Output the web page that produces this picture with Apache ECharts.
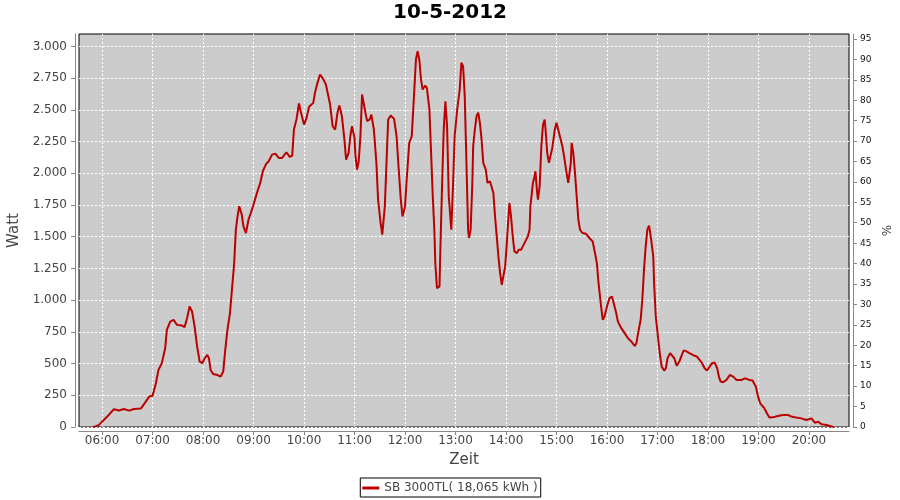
<!DOCTYPE html>
<html><head><meta charset="utf-8">
<script src="https://cdn.jsdelivr.net/npm/echarts@6/dist/echarts.min.js"></script>
<style>html,body{margin:0;padding:0;background:#fff}#c{width:900px;height:500px}</style>
</head><body><div id="c"></div>
<script>
const chartTitle = '10-5-2012';
const seriesName = 'SB 3000TL( 18,065 kWh )';
const times = ['05:49','05:52','05:56','06:02','06:08','06:14','06:20','06:26','06:32','06:38','06:46','06:52','06:56','07:00','07:04','07:07','07:11','07:15','07:17','07:21','07:25','07:29','07:35','07:38','07:41','07:44','07:47','07:50','07:53','07:56','07:59','08:02','08:05','08:07','08:09','08:12','08:17','08:21','08:24','08:26','08:29','08:32','08:34','08:37','08:39','08:41','08:43','08:46','08:48','08:51','08:54','08:57','09:00','09:04','09:08','09:11','09:15','09:18','09:22','09:26','09:30','09:34','09:39','09:43','09:46','09:48','09:51','09:54','09:56','10:00','10:03','10:06','10:11','10:13','10:16','10:19','10:23','10:26','10:28','10:31','10:34','10:37','10:40','10:42','10:45','10:48','10:50','10:53','10:55','10:57','11:00','11:01','11:03','11:05','11:07','11:09','11:11','11:13','11:15','11:18','11:20','11:23','11:26','11:28','11:31','11:33','11:36','11:38','11:40','11:43','11:47','11:50','11:52','11:55','11:57','12:00','12:02','12:05','12:08','12:10','12:13','12:15','12:17','12:19','12:21','12:24','12:26','12:29','12:31','12:33','12:35','12:36','12:38','12:41','12:42','12:44','12:46','12:48','12:50','12:52','12:55','12:57','12:59','13:02','13:05','13:07','13:09','13:11','13:13','13:15','13:16','13:18','13:20','13:21','13:23','13:25','13:27','13:29','13:31','13:33','13:36','13:38','13:41','13:43','13:45','13:47','13:49','13:51','13:53','13:55','13:57','13:59','14:01','14:03','14:04','14:06','14:08','14:10','14:13','14:15','14:18','14:20','14:23','14:26','14:28','14:29','14:32','14:34','14:35','14:37','14:38','14:40','14:42','14:44','14:46','14:47','14:49','14:51','14:53','14:55','14:58','15:00','15:03','15:05','15:07','15:09','15:12','15:14','15:15','15:17','15:18','15:20','15:22','15:24','15:26','15:28','15:31','15:35','15:39','15:43','15:45','15:48','15:50','15:53','15:55','15:57','16:00','16:03','16:06','16:08','16:11','16:13','16:17','16:21','16:25','16:29','16:33','16:35','16:37','16:40','16:42','16:44','16:46','16:48','16:50','16:52','16:55','16:56','16:58','17:01','17:03','17:05','17:08','17:10','17:12','17:15','17:17','17:20','17:23','17:26','17:29','17:31','17:34','17:38','17:42','17:47','17:50','17:53','17:56','17:59','18:02','18:05','18:08','18:11','18:13','18:15','18:18','18:22','18:24','18:26','18:30','18:34','18:40','18:44','18:49','18:53','18:57','18:59','19:02','19:07','19:10','19:13','19:17','19:23','19:29','19:35','19:39','19:45','19:51','19:57','20:03','20:07','20:11','20:15','20:21','20:25','20:29'];
const watts = [0,5,15,55,95,140,130,142,129,142,145,200,240,247,345,450,503,621,766,831,845,805,800,787,858,950,910,792,634,516,503,542,568,542,450,418,410,397,437,582,766,898,1055,1292,1555,1660,1740,1674,1581,1529,1634,1692,1753,1845,1924,2016,2074,2095,2147,2155,2121,2121,2166,2129,2140,2345,2424,2550,2489,2384,2437,2524,2555,2634,2713,2779,2740,2700,2713,2542,2371,2345,2489,2534,2450,2266,2108,2161,2292,2371,2279,2147,2029,2095,2292,2621,2608,2477,2411,2424,2463,2345,2082,1792,1608,1516,1739,2082,2424,2455,2429,2292,2082,1792,1660,1739,1950,2240,2292,2529,2897,2963,2897,2740,2660,2692,2674,2503,2161,1818,1529,1292,1095,1108,1397,1897,2345,2568,2371,1818,1555,1897,2292,2503,2660,2871,2845,2608,2082,1555,1490,1555,1924,2213,2345,2450,2477,2398,2266,2082,2029,1924,1937,1945,1845,1660,1503,1345,1213,1121,1134,1266,1450,1660,1766,1660,1503,1384,1371,1397,1397,1424,1463,1503,1555,1739,1924,1976,2016,1845,1792,1897,2213,2384,2424,2345,2161,2082,2082,2200,2345,2398,2319,2266,2213,2134,2003,1924,1937,2082,2240,2161,2003,1818,1634,1555,1529,1524,1490,1463,1397,1292,1134,950,845,871,950,1016,1029,976,898,831,779,740,700,673,639,661,740,845,1003,1240,1424,1555,1587,1503,1345,1134,871,687,568,476,445,463,542,582,587,542,482,516,568,603,598,582,568,555,529,503,463,445,476,503,508,463,397,358,353,371,384,410,397,371,371,384,371,366,318,253,187,148,108,74,76,87,95,95,82,74,68,55,68,34,42,21,16,8,0];
const xTickLabels = ['06:00','07:00','08:00','09:00','10:00','11:00','12:00','13:00','14:00','15:00','16:00','17:00','18:00','19:00','20:00'];
const wattTicks = [0,250,500,750,1000,1250,1500,1750,2000,2250,2500,2750,3000];
const pctTicks = [0,5,10,15,20,25,30,35,40,45,50,55,60,65,70,75,80,85,90,95];

function toMin(s){ const p = s.split(':'); return (+p[0]) * 60 + (+p[1]); }
const seriesData = times.map((t, i) => [toMin(t), watts[i]]);
const xTicks = xTickLabels.map(toMin);
function fmtW(v){ return String(Math.round(v)).replace(/\B(?=(\d{3})+(?!\d))/g, '.'); }
function fmtT(v){ const h = Math.floor(v / 60), m = Math.round(v - h * 60); return String(h).padStart(2,'0') + ':' + String(m).padStart(2,'0'); }

const gray = '#888888';
const chart = echarts.init(document.getElementById('c'), null, {renderer: 'canvas'});
chart.setOption({
  animation: false,
  backgroundColor: '#ffffff',
  textStyle: {fontFamily: 'DejaVu Sans'},
  title: {text: chartTitle, left: 'center', top: 0, padding: [3, 0, 0, 0],
    textStyle: {fontSize: 20, fontWeight: 'bold', color: '#000', fontFamily: 'DejaVu Sans'}},
  grid: {left: 79, right: 51, top: 34, bottom: 73, show: true, backgroundColor: '#cccccc',
    borderColor: '#000', borderWidth: 1, containLabel: false, outerBoundsMode: 'none'},
  legend: {top: 478, left: 'center', data: [seriesName], icon: 'rect', itemWidth: 17, itemHeight: 3,
    padding: [4, 3, 3, 2], borderColor: '#000', borderWidth: 1, borderRadius: 0, backgroundColor: '#fff',
    textStyle: {fontSize: 12, color: '#444', fontFamily: 'DejaVu Sans'}},
  xAxis: {type: 'value', min: 332.6, max: 1247.6, offset: 4,
    name: 'Zeit', nameLocation: 'middle', nameGap: 22,
    nameTextStyle: {fontSize: 15, color: '#444', fontFamily: 'DejaVu Sans'},
    axisLine: {show: true, onZero: false, lineStyle: {color: gray}},
    axisTick: {show: true, length: 4, customValues: xTicks, lineStyle: {color: gray}},
    axisLabel: {customValues: xTicks, formatter: fmtT, fontSize: 12, color: '#444', margin: 4},
    splitLine: {show: true, lineStyle: {color: '#fff', type: [2, 2], width: 1}}},
  yAxis: [
    {type: 'value', min: 0, max: 3098, position: 'left', offset: 4,
      name: 'Watt', nameLocation: 'middle', nameGap: 47,
      nameTextStyle: {fontSize: 15, color: '#444', fontFamily: 'DejaVu Sans'},
      axisLine: {show: true, onZero: false, lineStyle: {color: gray}},
      axisTick: {show: true, length: 4, customValues: wattTicks, lineStyle: {color: gray}},
      axisLabel: {customValues: wattTicks, formatter: fmtW, fontSize: 12, color: '#444', margin: 8},
      splitLine: {show: true, lineStyle: {color: '#fff', type: [2, 2], width: 1}}},
    {type: 'value', min: 0, max: 96.2, position: 'right', offset: 4,
      name: '%', nameLocation: 'middle', nameGap: 25,
      nameTextStyle: {fontSize: 12, color: '#444', fontFamily: 'DejaVu Sans'},
      axisLine: {show: true, onZero: false, lineStyle: {color: gray}},
      axisTick: {show: true, length: 4, customValues: pctTicks, lineStyle: {color: gray}},
      axisLabel: {customValues: pctTicks, fontSize: 9, color: '#111', margin: 7},
      splitLine: {show: false}}
  ],
  series: [{name: seriesName, type: 'line', yAxisIndex: 0, data: seriesData, symbol: 'none',
    color: '#bb0000', lineStyle: {color: '#bb0000', width: 2}}]
});
</script></body></html>
